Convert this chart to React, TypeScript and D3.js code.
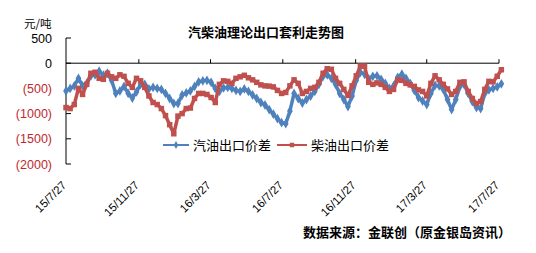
import React from "react";
import * as d3 from "d3";

const title = "汽柴油理论出口套利走势图";
const unitLabel = "元/吨";
const sourceText = "数据来源：金联创（原金银岛资讯）";
const seriesNames = ["汽油出口价差", "柴油出口价差"];

const startDate = "2015-07-27";
const tickDates = ["2015-07-27", "2015-11-27", "2016-03-27", "2016-07-27", "2016-11-27", "2017-03-27", "2017-07-27"];
const tickLabels = ["15/7/27", "15/11/27", "16/3/27", "16/7/27", "16/11/27", "17/3/27", "17/7/27"];
const yTicks = [500, 0, -500, -1000, -1500, -2000];

// weekly readings (yuan/ton)
const gasolineSpread = [
  -550, -500, -450, -300, -450, -400, -250, -230, -160, -240,
  -200, -340, -600, -550, -460, -600, -690, -570, -420, -420,
  -510, -480, -500, -520, -600, -700, -800, -800, -630, -590,
  -550, -460, -370, -350, -340, -380, -500, -560, -490, -480,
  -500, -540, -560, -510, -560, -630, -700, -780, -830, -920,
  -1010, -1100, -1180, -1200, -950, -600, -700, -790, -720, -650,
  -560, -420, -260, -230, -300, -420, -600, -720, -860, -650,
  -340, -180, -220, -310, -260, -250, -320, -400, -500, -450,
  -280, -220, -300, -400, -540, -680, -750, -820, -600, -440,
  -450, -520, -720, -920, -720, -460, -420, -600, -760, -880,
  -900, -600, -530, -500, -470, -410,
];
const dieselSpread = [
  -880, -900, -820, -500, -620, -420, -200, -180, -300, -320,
  -200, -270, -300, -230, -260, -400, -480, -300, -350, -480,
  -650, -780, -820, -900, -1040, -1220, -1400, -1050, -1000, -900,
  -890, -700, -600, -600, -620, -680, -780, -420, -350, -360,
  -400, -300, -270, -240, -290, -330, -380, -430, -450, -455,
  -470, -540, -600, -580, -450, -330, -400, -600, -560, -500,
  -480, -380, -200, -110, -120, -300, -400, -520, -640, -450,
  -250, -60, -60, -380, -420, -390, -420, -480, -560, -520,
  -330, -340, -400, -430, -460, -530, -560, -650, -400, -250,
  -330, -420, -510, -620, -560, -380, -370, -560, -700, -800,
  -760, -520, -360, -370, -260, -130,
];

const W = 536;
const H = 253;
const CJK = "'Noto Sans CJK SC', 'Noto Sans', sans-serif";
const LATIN = "'Liberation Sans', Arial, sans-serif";
const BLUE = "#4F81BD";
const RED = "#C0504D";

export default function App() {
  const parse = d3.utcParse("%Y-%m-%d");
  const start = parse(startDate)!;
  const dates = gasolineSpread.map((_, i) => d3.utcDay.offset(start, i * 7));
  const x = d3
    .scaleUtc()
    .domain([parse(tickDates[0])!, parse(tickDates[tickDates.length - 1])!])
    .range([66, 499]);
  const y = d3.scaleLinear().domain([-2000, 500]).range([164, 38]);

  const line = d3
    .line<number>()
    .x((_, i) => x(dates[i]))
    .y((d) => y(d));

  const square = d3.symbol(d3.symbolSquare, 30)();
  const diamond = d3.symbol(d3.symbolDiamond, 28)();
  const legendSquare = d3.symbol(d3.symbolSquare, 20)();
  const legendDiamond = d3.symbol(d3.symbolDiamond, 18)();

  const ticks = tickDates.map((t) => x(parse(t)!));

  return (
    <svg
      width={W}
      height={H}
      style={{ position: "absolute", left: 0, top: 0, background: "#fff" }}
    >
      <rect width={W} height={H} fill="#fff" />
      {/* title */}
      <text
        x={266}
        y={37}
        textAnchor="middle"
        fontFamily={CJK}
        fontWeight="bold"
        fontSize={13}
        fill="#000"
      >
        {title}
      </text>
      <text x={24} y={28} fontFamily={CJK} fontSize={11.5} fill="#000">
        {unitLabel}
      </text>
      {/* y axis */}
      <line x1={66} x2={66} y1={y(500)} y2={y(-2000)} stroke="#000" strokeWidth={1} />
      {yTicks.map((v) => (
        <g key={v}>
          <line x1={66} x2={71} y1={y(v)} y2={y(v)} stroke="#000" />
          <text
            x={52}
            y={y(v) + 4.5}
            textAnchor="end"
            fontFamily={LATIN}
            fontSize={12.5}
            fill={v < 0 ? "#C0282D" : "#000"}
          >
            {v < 0 ? `(${-v})` : `${v}`}
          </text>
        </g>
      ))}
      {/* x axis at zero */}
      <line x1={66} x2={499} y1={y(0)} y2={y(0)} stroke="#000" />
      {ticks.map((tx, i) => (
        <g key={i}>
          {i > 0 && <line x1={tx} x2={tx} y1={y(0)} y2={y(0) - 4} stroke="#000" />}
          <text
            transform={`translate(${tx + 1},${186}) rotate(-45)`}
            textAnchor="end"
            fontFamily={LATIN}
            fontSize={11.5}
            fill="#000"
          >
            {tickLabels[i]}
          </text>
        </g>
      ))}
      {/* series */}
      <path d={line(gasolineSpread) ?? ""} fill="none" stroke={BLUE} strokeWidth={3.5} strokeLinejoin="round" />
      {gasolineSpread.map((v, i) => (
        <path key={i} d={diamond} transform={`translate(${x(dates[i])},${y(v)})`} fill={BLUE} />
      ))}
      <path d={line(dieselSpread) ?? ""} fill="none" stroke={RED} strokeWidth={3.5} strokeLinejoin="round" />
      {dieselSpread.map((v, i) => (
        <path key={i} d={square} transform={`translate(${x(dates[i])},${y(v)})`} fill={RED} />
      ))}
      {/* legend */}
      <line x1={163} x2={189} y1={145} y2={145} stroke={BLUE} strokeWidth={2} />
      <path d={legendDiamond} transform="translate(176,145)" fill={BLUE} />
      <text x={193} y={150} fontFamily={CJK} fontSize={13} fill="#000">
        {seriesNames[0]}
      </text>
      <line x1={277} x2={307} y1={145} y2={145} stroke={RED} strokeWidth={2} />
      <path d={legendSquare} transform="translate(292,145)" fill={RED} />
      <text x={311} y={150} fontFamily={CJK} fontSize={13} fill="#000">
        {seriesNames[1]}
      </text>
      {/* source */}
      <text x={303} y={237} fontFamily={CJK} fontWeight="bold" fontSize={13} fill="#000">
        {sourceText}
      </text>
    </svg>
  );
}
